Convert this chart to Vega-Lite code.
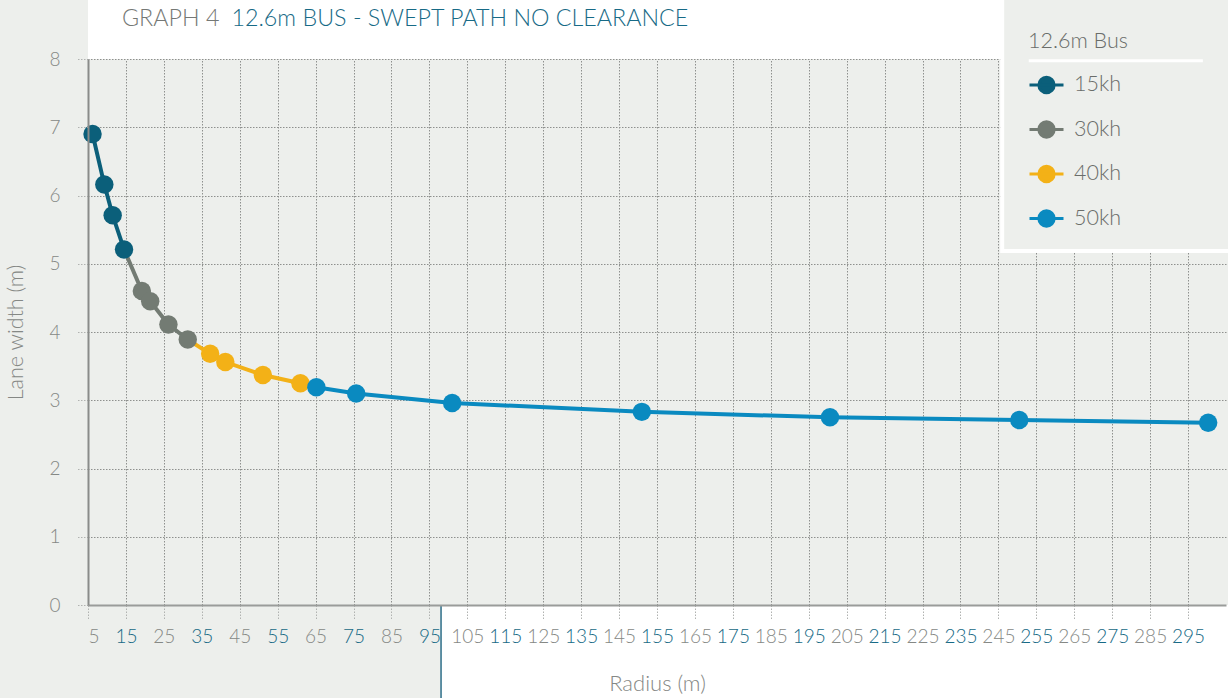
{
  "$schema": "https://vega.github.io/schema/vega-lite/v6.json",
  "width": 1138,
  "height": 546,
  "autosize": "none",
  "padding": {"left": 88, "top": 59, "right": 2, "bottom": 93},
  "background": "#edefec",
  "config": {
    "view": {"stroke": null, "fill": "#edefec"},
    "font": "Lato",
    "axis": {"labelFont": "Lato", "titleFont": "Lato", "titleFontWeight": 300, "labelFontWeight": 300},
    "legend": {"labelFont": "Lato", "titleFont": "Lato", "labelFontWeight": 300, "titleFontWeight": 300}
  },
  "datasets": {
    "points": [
      {"series": "15kh", "radius": 6.2, "width": 6.9},
      {"series": "15kh", "radius": 9.3, "width": 6.16},
      {"series": "15kh", "radius": 11.5, "width": 5.71},
      {"series": "15kh", "radius": 14.5, "width": 5.21},
      {"series": "30kh", "radius": 19.2, "width": 4.6},
      {"series": "30kh", "radius": 21.4, "width": 4.45},
      {"series": "30kh", "radius": 26.2, "width": 4.11},
      {"series": "30kh", "radius": 31.3, "width": 3.89},
      {"series": "40kh", "radius": 37.2, "width": 3.68},
      {"series": "40kh", "radius": 41.2, "width": 3.56},
      {"series": "40kh", "radius": 51.1, "width": 3.37},
      {"series": "40kh", "radius": 61.0, "width": 3.25},
      {"series": "50kh", "radius": 65.2, "width": 3.19},
      {"series": "50kh", "radius": 75.7, "width": 3.1},
      {"series": "50kh", "radius": 101.0, "width": 2.96},
      {"series": "50kh", "radius": 151.0, "width": 2.83},
      {"series": "50kh", "radius": 200.6, "width": 2.75},
      {"series": "50kh", "radius": 250.5, "width": 2.71},
      {"series": "50kh", "radius": 300.3, "width": 2.67}
    ],
    "lines": [
      {"series": "15kh", "radius": 6.2, "width": 6.9},
      {"series": "15kh", "radius": 9.3, "width": 6.16},
      {"series": "15kh", "radius": 11.5, "width": 5.71},
      {"series": "15kh", "radius": 14.5, "width": 5.21},
      {"series": "30kh", "radius": 14.5, "width": 5.21},
      {"series": "30kh", "radius": 19.2, "width": 4.6},
      {"series": "30kh", "radius": 21.4, "width": 4.45},
      {"series": "30kh", "radius": 26.2, "width": 4.11},
      {"series": "30kh", "radius": 31.3, "width": 3.89},
      {"series": "40kh", "radius": 31.3, "width": 3.89},
      {"series": "40kh", "radius": 37.2, "width": 3.68},
      {"series": "40kh", "radius": 41.2, "width": 3.56},
      {"series": "40kh", "radius": 51.1, "width": 3.37},
      {"series": "40kh", "radius": 61.0, "width": 3.25},
      {"series": "50kh", "radius": 61.0, "width": 3.25},
      {"series": "50kh", "radius": 65.2, "width": 3.19},
      {"series": "50kh", "radius": 75.7, "width": 3.1},
      {"series": "50kh", "radius": 101.0, "width": 2.96},
      {"series": "50kh", "radius": 151.0, "width": 2.83},
      {"series": "50kh", "radius": 200.6, "width": 2.75},
      {"series": "50kh", "radius": 250.5, "width": 2.71},
      {"series": "50kh", "radius": 300.3, "width": 2.67}
    ]
  },
  "resolve": {"axis": {"x": "independent", "y": "independent"}},
  "layer": [
    {
      "data": {"values": [{}]},
      "mark": {"type": "rect", "color": "white"},
      "encoding": {
        "x": {"datum": 5, "type": "quantitative", "scale": {"domain": [5, 305]}, "axis": null},
        "x2": {"datum": 312},
        "y": {"datum": 8, "type": "quantitative", "scale": {"domain": [0, 8]}, "axis": null},
        "y2": {"datum": 9.5}
      }
    },
    {
      "data": {"values": [{}]},
      "mark": {"type": "rect", "color": "white"},
      "encoding": {
        "x": {"datum": 98.07, "type": "quantitative", "scale": {"domain": [5, 305]}, "axis": null},
        "x2": {"datum": 312},
        "y": {"datum": 0, "type": "quantitative", "scale": {"domain": [0, 8]}, "axis": null},
        "y2": {"datum": -2}
      }
    },
    {
      "data": {"values": [{}]},
      "mark": {"type": "rule", "color": "#2d6e88", "strokeWidth": 1.5},
      "encoding": {
        "x": {"datum": 98.07, "type": "quantitative", "scale": {"domain": [5, 305]}, "axis": null},
        "y": {"datum": 0, "type": "quantitative", "scale": {"domain": [0, 8]}, "axis": null},
        "y2": {"datum": -2}
      }
    },
    {
      "data": {"values": [{}]},
      "mark": {"type": "rect", "color": "#edefec", "stroke": "white", "strokeWidth": 4},
      "encoding": {
        "x": {"datum": 246.0, "type": "quantitative", "scale": {"domain": [5, 305]}, "axis": null},
        "x2": {"datum": 312},
        "y": {"datum": 9.5, "type": "quantitative", "scale": {"domain": [0, 8]}, "axis": null},
        "y2": {"datum": 5.187}
      }
    },
    {
      "data": {"values": [{}]},
      "mark": {"type": "rule", "color": "white", "strokeWidth": 3},
      "encoding": {
        "x": {"datum": 253.0, "type": "quantitative", "scale": {"domain": [5, 305]}, "axis": null},
        "x2": {"datum": 298.9},
        "y": {"datum": 7.975, "type": "quantitative", "scale": {"domain": [0, 8]}, "axis": null}
      }
    },
    {
      "data": {"values": [{}]},
      "mark": {"type": "text", "text": "GRAPH 4", "align": "left", "baseline": "alphabetic", "fontSize": 23.3, "fontWeight": 300, "color": "#757875"},
      "encoding": {
        "x": {"datum": 13.96, "type": "quantitative", "scale": {"domain": [5, 305]}, "axis": null},
        "y": {"datum": 8.4835, "type": "quantitative", "scale": {"domain": [0, 8]}, "axis": null}
      }
    },
    {
      "data": {"values": [{}]},
      "mark": {"type": "text", "text": "12.6m BUS - SWEPT PATH NO CLEARANCE", "align": "left", "baseline": "alphabetic", "fontSize": 23.3, "fontWeight": 300, "color": "#176a86"},
      "encoding": {
        "x": {"datum": 42.8, "type": "quantitative", "scale": {"domain": [5, 305]}, "axis": null},
        "y": {"datum": 8.4835, "type": "quantitative", "scale": {"domain": [0, 8]}, "axis": null}
      }
    },
    {
      "data": {"name": "lines"},
      "mark": {"type": "line", "strokeWidth": 4},
      "encoding": {
        "x": {
          "field": "radius", "type": "quantitative", "scale": {"domain": [5, 305]},
          "axis": {"orient": "top", "values": [5, 15, 25, 35, 45, 55, 65, 75, 85, 95, 105, 115, 125, 135, 145, 155, 165, 175, 185, 195, 205, 215, 225, 235, 245, 255, 265, 275, 285, 295],
                   "grid": true, "gridColor": "#8e908e", "gridDash": [1.5, 1.5], "gridWidth": 1, "labels": false, "ticks": false, "domain": false, "title": null, "zindex": 0}
        },
        "y": {
          "field": "width", "type": "quantitative", "scale": {"domain": [0, 8]},
          "axis": {"orient": "right", "values": [0, 1, 2, 3, 4, 5, 6, 7, 8], "grid": true, "gridColor": "#8e908e", "gridDash": [1.5, 1.5], "gridWidth": 1, "labels": false, "ticks": false, "domain": false, "title": null, "zindex": 0}
        },
        "color": {"field": "series", "type": "nominal", "scale": {"domain": ["15kh", "30kh", "40kh", "50kh"], "range": ["#0b5f7a", "#737b73", "#f3b117", "#0a8ac0"]}}
      }
    },
    {
      "data": {"name": "points"},
      "mark": {"type": "circle", "size": 340, "opacity": 1},
      "encoding": {
        "x": {
          "field": "radius", "type": "quantitative", "scale": {"domain": [5, 305]}, "title": "Radius (m)",
          "axis": {"orient": "bottom", "values": [5, 15, 25, 35, 45, 55, 65, 75, 85, 95, 105, 115, 125, 135, 145, 155, 165, 175, 185, 195, 205, 215, 225, 235, 245, 255, 265, 275, 285, 295],
                   "grid": false, "zindex": 1, "domainColor": "#9a9c9a", "domainWidth": 2, "tickColor": "#b0b2b0", "tickDash": [1.5, 1.5], "tickSize": 15,
                   "labelFontSize": 19, "labelPadding": 7, "labelColor": {"condition": {"test": "datum.value % 20 == 15", "value": "#176a86"}, "value": "#858885"},
                   "titleFontSize": 22, "titleColor": "#858885", "titlePadding": 27}
        },
        "y": {
          "field": "width", "type": "quantitative", "scale": {"domain": [0, 8]}, "title": "Lane width (m)",
          "axis": {"orient": "left", "values": [0, 1, 2, 3, 4, 5, 6, 7, 8], "grid": false, "zindex": 1, "domainColor": "#8a8c8a", "domainWidth": 2, "tickColor": "#b0b2b0", "tickDash": [1.5, 1.5], "tickSize": 12,
                   "labelFontSize": 19, "labelPadding": 16, "labelColor": "#858885", "titleFontSize": 21.5, "titleColor": "#858885", "titlePadding": 21}
        },
        "color": {
          "field": "series", "type": "nominal", "scale": {"domain": ["15kh", "30kh", "40kh", "50kh"], "range": ["#0b5f7a", "#737b73", "#f3b117", "#0a8ac0"]},
          "legend": {
            "title": "12.6m Bus", "orient": "none", "legendX": 940, "legendY": -28, "padding": 0,
            "titleFontSize": 21.5, "titleColor": "#6a6d6a", "titlePadding": 14,
            "labelFontSize": 21.5, "labelColor": "#6a6d6a", "labelOffset": 9, "rowPadding": 11.5,
            "symbolType": "M-1,0H1M0.45,0A0.45,0.45,0,1,1,-0.45,0A0.45,0.45,0,1,1,0.45,0Z",
            "symbolSize": 1156, "symbolStrokeWidth": 3,
            "encode": {"symbols": {"update": {"stroke": {"scale": "color", "field": "value"}, "fill": {"scale": "color", "field": "value"}, "strokeWidth": {"value": 3}, "opacity": {"value": 1}}}}
          }
        }
      }
    }
  ]
}
